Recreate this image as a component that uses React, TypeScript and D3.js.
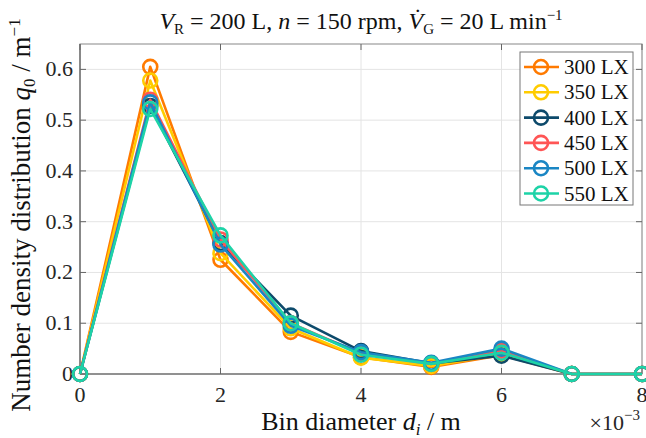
import React from 'react';
import * as d3 from 'd3';

// bin diameter in units of 1e-3 m
const binDiameter = [0, 1, 2, 3, 4, 5, 6, 7, 8];
const seriesNames = ['300 LX', '350 LX', '400 LX', '450 LX', '500 LX', '550 LX'];
const seriesColors = ['#ff7a00', '#ffcc00', '#0d4a6b', '#ff5555', '#1a86c4', '#1dd3a7'];
const q300 = [0, 0.605, 0.225, 0.083, 0.033, 0.014, 0.037, 0, 0];
const q350 = [0, 0.578, 0.238, 0.09, 0.032, 0.016, 0.039, 0, 0];
const q400 = [0, 0.528, 0.258, 0.115, 0.045, 0.021, 0.036, 0, 0];
const q450 = [0, 0.54, 0.265, 0.1, 0.04, 0.02, 0.046, 0, 0];
const q500 = [0, 0.535, 0.255, 0.095, 0.043, 0.022, 0.05, 0, 0];
const q550 = [0, 0.522, 0.273, 0.1, 0.038, 0.02, 0.042, 0, 0];
const seriesValues = [q300, q350, q400, q450, q500, q550];
const xTicks = [0, 2, 4, 6, 8];
const yTicks = [0, 0.1, 0.2, 0.3, 0.4, 0.5, 0.6];

const W = 646;
const H = 438;
const font = '"Liberation Serif", "DejaVu Serif", serif';

export default function App() {
  const margin = { top: 44, right: 4, bottom: 64, left: 80 };
  const x = d3.scaleLinear().domain([0, 8]).range([margin.left, W - margin.right]);
  const y = d3.scaleLinear().domain([0, 0.65]).range([H - margin.bottom, margin.top]);

  const line = d3
    .line<number>()
    .x((_, i) => x(binDiameter[i]))
    .y((d) => y(d));

  const x0 = x.range()[0];
  const x1 = x.range()[1];
  const y0 = y.range()[0];
  const y1 = y.range()[1];

  const legX = 520;
  const legY = 52;
  const rowH = 25.3;

  return (
    <svg width={W} height={H} style={{ position: 'absolute', left: 0, top: 0, background: '#fff' }}>
      <rect width={W} height={H} fill="#fff" />
      {/* grid */}
      {xTicks.map((t) => (
        <line key={'gx' + t} x1={x(t)} x2={x(t)} y1={y0} y2={y1} stroke="#e4e4e4" strokeWidth={1} />
      ))}
      {yTicks.map((t) => (
        <line key={'gy' + t} x1={x0} x2={x1} y1={y(t)} y2={y(t)} stroke="#e4e4e4" strokeWidth={1} />
      ))}
      {/* box */}
      <rect x={x0} y={y1} width={x1 - x0} height={y0 - y1} fill="none" stroke="#888" strokeWidth={1} />
      <line x1={x0} x2={x1} y1={y0} y2={y0} stroke="#666" strokeWidth={1.2} />
      <line x1={x0} x2={x0} y1={y0} y2={y1} stroke="#666" strokeWidth={1.2} />
      {/* ticks */}
      {xTicks.map((t) => (
        <g key={'tx' + t}>
          <line x1={x(t)} x2={x(t)} y1={y0} y2={y0 - 6} stroke="#666" />
          <line x1={x(t)} x2={x(t)} y1={y1} y2={y1 + 6} stroke="#666" />
          <text x={x(t)} y={y0 + 28} textAnchor="middle" fontFamily={font} fontSize={22} fill="#262626">
            {t}
          </text>
        </g>
      ))}
      {yTicks.map((t) => (
        <g key={'ty' + t}>
          <line x1={x0} x2={x0 + 6} y1={y(t)} y2={y(t)} stroke="#666" />
          <line x1={x1} x2={x1 - 6} y1={y(t)} y2={y(t)} stroke="#666" />
          <text x={x0 - 7} y={y(t) + 7} textAnchor="end" fontFamily={font} fontSize={22} fill="#262626">
            {t === 0 ? '0' : d3.format('.1f')(t)}
          </text>
        </g>
      ))}
      {/* series */}
      {seriesValues.map((vals, s) => (
        <g key={'s' + s}>
          <path d={line(vals) ?? ''} fill="none" stroke={seriesColors[s]} strokeWidth={2.6} strokeLinejoin="round" />
          {vals.map((v, i) => (
            <circle key={i} cx={x(binDiameter[i])} cy={y(v)} r={7} fill="none" stroke={seriesColors[s]} strokeWidth={2.6} />
          ))}
        </g>
      ))}
      {/* legend */}
      <rect x={legX} y={legY} width={113} height={153} fill="#fff" stroke="#777" strokeWidth={1} />
      {seriesNames.map((name, s) => {
        const cy = legY + 15 + s * rowH;
        return (
          <g key={'l' + s}>
            <line x1={legX + 4} x2={legX + 39} y1={cy} y2={cy} stroke={seriesColors[s]} strokeWidth={2.6} />
            <circle cx={legX + 21} cy={cy} r={7} fill="none" stroke={seriesColors[s]} strokeWidth={2.6} />
            <text x={legX + 44} y={cy + 7} fontFamily={font} fontSize={21} fill="#111">
              {name}
            </text>
          </g>
        );
      })}
      {/* title */}
      <text x={(x0 + x1) / 2} y={29} textAnchor="middle" fontFamily={font} fontSize={24} fill="#111">
        <tspan fontStyle="italic">V</tspan>
        <tspan fontSize={15} dy={5}>R</tspan>
        <tspan dy={-5}> = 200 L, </tspan>
        <tspan fontStyle="italic">n</tspan>
        <tspan> = 150 rpm, </tspan>
        <tspan fontStyle="italic">V̇</tspan>
        <tspan fontSize={15} dy={5}>G</tspan>
        <tspan dy={-5}> = 20 L min</tspan>
        <tspan fontSize={15} dy={-9}>−1</tspan>
      </text>
      {/* x label */}
      <text x={(x0 + x1) / 2} y={430} textAnchor="middle" fontFamily={font} fontSize={26} fill="#111">
        <tspan>Bin diameter </tspan>
        <tspan fontStyle="italic">d</tspan>
        <tspan fontStyle="italic" fontSize={17} dy={5}>i</tspan>
        <tspan dy={-5}> / m</tspan>
      </text>
      <text x={x1 - 2} y={430} textAnchor="end" fontFamily={font} fontSize={22} fill="#262626">
        <tspan>×10</tspan>
        <tspan fontSize={15} dy={-10}>−3</tspan>
      </text>
      {/* y label */}
      <text
        transform={`translate(30, ${y0 / 2 + 28}) rotate(-90)`}
        textAnchor="middle"
        fontFamily={font}
        fontSize={27}
        fill="#111"
      >
        <tspan>Number density distribution </tspan>
        <tspan fontStyle="italic">q</tspan>
        <tspan fontSize={17} dy={5}>0</tspan>
        <tspan dy={-5}> / m</tspan>
        <tspan fontSize={17} dy={-10}>−1</tspan>
      </text>
    </svg>
  );
}
